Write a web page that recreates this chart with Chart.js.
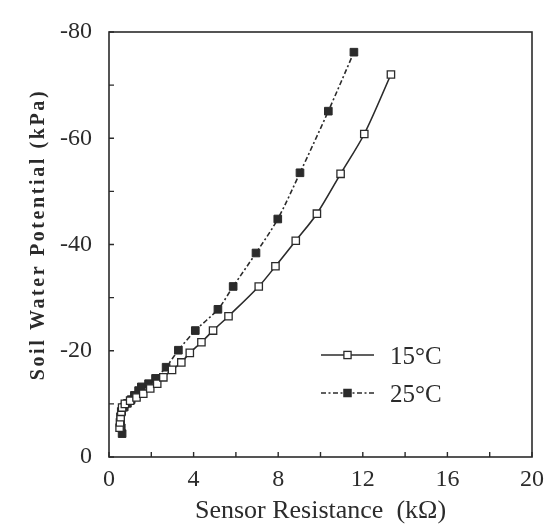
<!DOCTYPE html>
<html>
<head>
<meta charset="utf-8">
<script src="https://cdn.jsdelivr.net/npm/chart.js@4/dist/chart.umd.min.js"></script>
<style>
html,body{margin:0;padding:0;background:#ffffff;}
#c{display:block;}
</style>
</head>
<body>
<canvas id="c" width="553" height="527"></canvas>
<script>
// ---- data ----
const seriesLabels = ["15°C", "25°C"];
const res15 = [0.50, 0.52, 0.55, 0.58, 0.62, 0.75, 1.00, 1.30, 1.62, 1.95, 2.28, 2.57, 2.98, 3.42, 3.82, 4.37, 4.92, 5.65, 7.08, 7.87, 8.83, 9.83, 10.95, 12.07, 13.33];
const swp15 = [-5.5, -6.5, -7.5, -8.5, -9.3, -10.0, -10.6, -11.2, -11.9, -12.9, -13.8, -15.0, -16.4, -17.8, -19.6, -21.6, -23.8, -26.5, -32.1, -35.9, -40.7, -45.8, -53.3, -60.8, -72.0];
const res25 = [0.62, 0.58, 0.55, 0.55, 0.60, 0.72, 0.87, 1.05, 1.20, 1.40, 1.53, 1.87, 2.20, 2.70, 3.28, 4.08, 5.15, 5.87, 6.95, 7.98, 9.03, 10.37, 11.58];
const swp25 = [-4.4, -5.5, -6.6, -7.6, -8.6, -9.4, -10.1, -10.8, -11.6, -12.5, -13.2, -13.8, -14.8, -16.9, -20.1, -23.8, -27.8, -32.1, -38.4, -44.8, -53.5, -65.1, -76.2];
const xTickLabels = [0, 4, 8, 12, 16, 20];
const yTickLabels = [-80, -60, -40, -20, 0];
const xMinorTicks = [0, 2, 4, 6, 8, 10, 12, 14, 16, 18, 20];
const yMinorTicks = [-80, -70, -60, -50, -40, -30, -20, -10, 0];

const INK = '#2b2b2b';
const SERIF = '"Liberation Serif", "DejaVu Serif", serif';

function pts(xs, ys) { return xs.map((x, i) => ({x: x, y: ys[i]})); }

const frame = {
  id: 'frame',
  beforeDraw(chart) {
    const y = chart.scales.y;
    if (!y._lsWrapped) {
      const orig = y.drawTitle.bind(y);
      y.drawTitle = function () {
        const ctx = this.ctx;
        ctx.save();
        ctx.letterSpacing = '2.6px';
        ctx.translate(0, -10);
        orig();
        ctx.restore();
      };
      y._lsWrapped = true;
    }
  },
  afterDatasetsDraw(chart) {
    const {ctx, chartArea: a, scales} = chart;
    ctx.save();
    ctx.strokeStyle = INK;
    ctx.lineWidth = 1.6;
    ctx.setLineDash([]);
    ctx.strokeRect(a.left, a.top, a.right - a.left, a.bottom - a.top);
    ctx.lineWidth = 1.4;
    const tl = 5;
    ctx.beginPath();
    xMinorTicks.forEach(v => {
      const px = scales.x.getPixelForValue(v);
      ctx.moveTo(px, a.bottom); ctx.lineTo(px, a.bottom - tl);
    });
    yMinorTicks.forEach(v => {
      const py = scales.y.getPixelForValue(v);
      ctx.moveTo(a.left, py); ctx.lineTo(a.left + tl, py);
    });
    ctx.stroke();

    // legend inside plot
    const ds = chart.data.datasets;
    const rowsY = [a.top + 323, a.top + 361];
    const x0 = a.left + 212, x1 = a.left + 265, tx = a.left + 281;
    ds.forEach((d, i) => {
      const yy = rowsY[i];
      ctx.strokeStyle = d.borderColor;
      ctx.lineWidth = d.borderWidth;
      ctx.setLineDash(d.borderDash || []);
      ctx.beginPath(); ctx.moveTo(x0, yy); ctx.lineTo(x1, yy); ctx.stroke();
      ctx.setLineDash([]);
      const s = 3.6;
      ctx.fillStyle = d.pointBackgroundColor;
      ctx.fillRect((x0 + x1) / 2 - s, yy - s, 2 * s, 2 * s);
      ctx.lineWidth = 1.3;
      ctx.strokeStyle = d.pointBorderColor;
      ctx.strokeRect((x0 + x1) / 2 - s, yy - s, 2 * s, 2 * s);
      ctx.fillStyle = INK;
      ctx.font = '25px ' + SERIF;
      ctx.textBaseline = 'middle';
      ctx.textAlign = 'left';
      ctx.fillText(d.label, tx, yy + 2);
    });
    ctx.restore();
  }
};

new Chart(document.getElementById('c'), {
  type: 'scatter',
  data: {
    datasets: [
      {
        label: seriesLabels[0],
        data: pts(res15, swp15),
        showLine: true,
        tension: 0.3,
        borderColor: INK,
        borderWidth: 1.6,
        pointStyle: 'rect',
        pointRadius: 5.2,
        pointBorderWidth: 1.3,
        pointBackgroundColor: '#ffffff',
        pointBorderColor: INK
      },
      {
        label: seriesLabels[1],
        data: pts(res25, swp25),
        showLine: true,
        tension: 0.3,
        borderColor: INK,
        borderWidth: 1.6,
        borderDash: [5, 2.5, 2, 2.5],
        pointStyle: 'rect',
        pointRadius: 5.4,
        pointBorderWidth: 1,
        pointBackgroundColor: INK,
        pointBorderColor: INK
      }
    ]
  },
  options: {
    responsive: false,
    animation: false,
    devicePixelRatio: 1,
    layout: {padding: {left: 0, right: 21, top: 32, bottom: 0}},
    plugins: {legend: {display: false}, tooltip: {enabled: false}},
    scales: {
      x: {
        type: 'linear', min: 0, max: 20,
        afterBuildTicks: s => { s.ticks = xTickLabels.map(v => ({value: v})); },
        ticks: {color: INK, font: {family: SERIF, size: 24}, padding: 8, maxRotation: 0},
        grid: {display: false, drawTicks: false},
        border: {display: false},
        title: {display: true, text: 'Sensor Resistance  (kΩ)', color: INK, font: {family: SERIF, size: 26}, padding: {top: 0, bottom: 0}},
        afterFit: s => { s.height = 70; }
      },
      y: {
        type: 'linear', min: -80, max: 0, reverse: true,
        afterBuildTicks: s => { s.ticks = yTickLabels.map(v => ({value: v})); },
        ticks: {color: INK, font: {family: SERIF, size: 24}, padding: 17},
        grid: {display: false, drawTicks: false},
        border: {display: false},
        title: {display: true, text: 'Soil Water Potential (kPa)', color: INK, font: {family: SERIF, size: 20, weight: 'bold'}, padding: {top: 27, bottom: 0}},
        afterFit: s => { s.width = 109; }
      }
    }
  },
  plugins: [frame]
});
</script>
</body>
</html>
